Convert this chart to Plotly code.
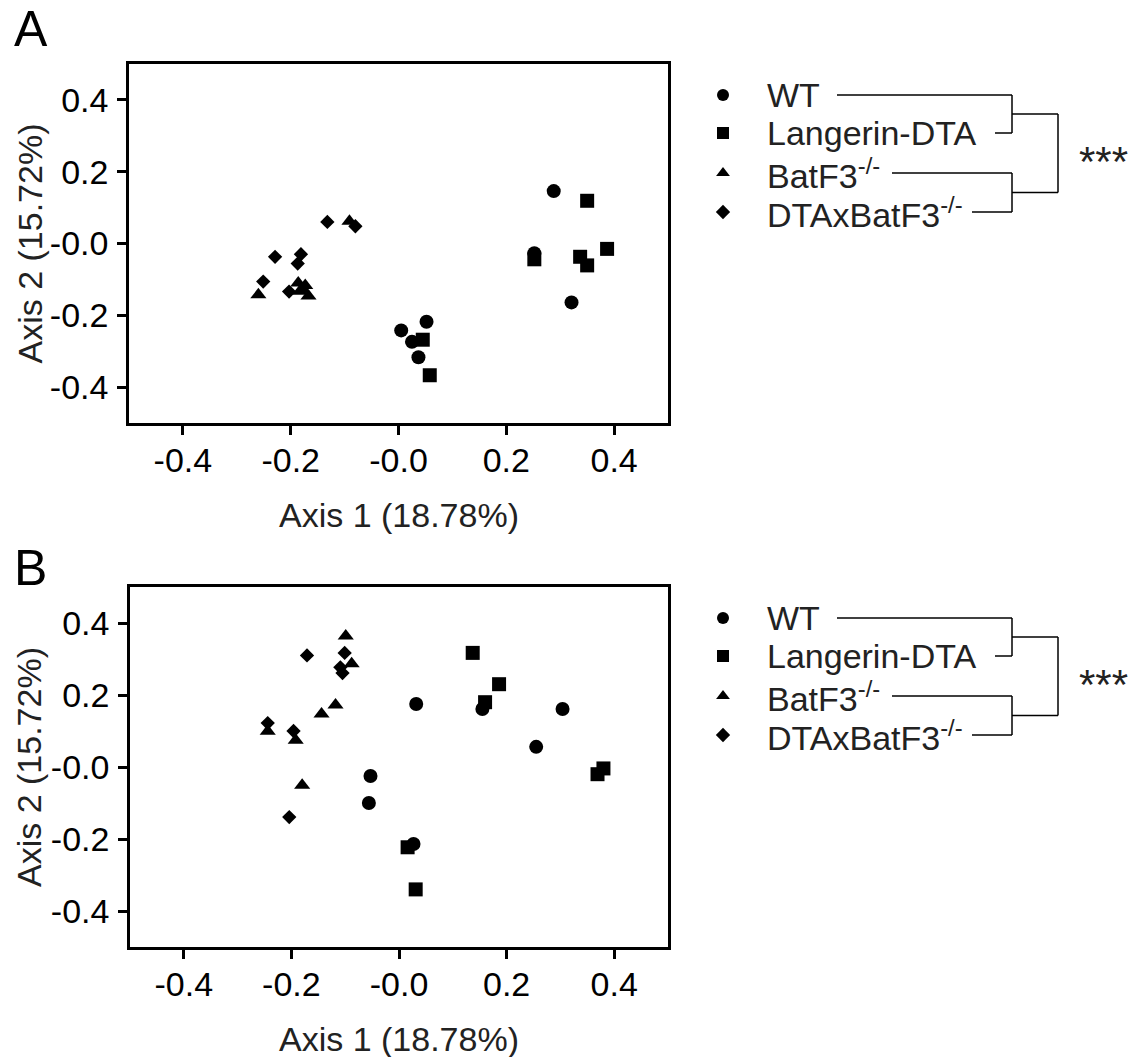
import plotly.graph_objects as go

W, H = 1141, 1057
FONT = "Liberation Sans, Arial, sans-serif"

groups = ["WT", "Langerin-DTA", "BatF3<sup>-/-</sup>", "DTAxBatF3<sup>-/-</sup>"]
symbols = ["circle", "square", "triangle-up", "diamond"]
sizes = [14, 14, 14, 11]
legend_sizes = [12, 12, 12, 11]

# Panel A coordinates
wt_a_x = [0.288, 0.252, 0.321, 0.005, 0.052, 0.025, 0.037]
wt_a_y = [0.146, -0.027, -0.164, -0.242, -0.218, -0.274, -0.317]
lang_a_x = [0.350, 0.387, 0.337, 0.350, 0.252, 0.045, 0.058]
lang_a_y = [0.119, -0.015, -0.037, -0.061, -0.044, -0.268, -0.367]
bat_a_x = [-0.260, -0.186, -0.173, -0.183, -0.167, -0.178, -0.091]
bat_a_y = [-0.143, -0.110, -0.117, -0.133, -0.146, -0.127, 0.062]
dta_a_x = [-0.132, -0.080, -0.229, -0.181, -0.187, -0.251, -0.203]
dta_a_y = [0.060, 0.048, -0.037, -0.030, -0.056, -0.106, -0.134]

# Panel B coordinates
wt_b_x = [0.032, 0.155, 0.304, 0.255, -0.053, -0.056, 0.027]
wt_b_y = [0.175, 0.161, 0.161, 0.056, -0.025, -0.100, -0.214]
lang_b_x = [0.137, 0.186, 0.160, 0.380, 0.369, 0.016, 0.031]
lang_b_y = [0.317, 0.230, 0.180, -0.004, -0.020, -0.223, -0.340]
bat_b_x = [-0.099, -0.088, -0.118, -0.144, -0.244, -0.192, -0.180]
bat_b_y = [0.364, 0.287, 0.172, 0.147, 0.099, 0.074, -0.051]
dta_b_x = [-0.171, -0.101, -0.109, -0.105, -0.244, -0.196, -0.204]
dta_b_y = [0.310, 0.317, 0.277, 0.261, 0.122, 0.100, -0.139]

tick_vals = [-0.4, -0.2, 0.0, 0.2, 0.4]
tick_text = ["-0.4", "-0.2", "-0.0", "0.2", "0.4"]
x_title = "Axis 1 (18.78%)"
y_title = "Axis 2 (15.72%)"
stars = "***"

panels = [
    dict(letter="A", letter_y=29, box=(129, 64, 668, 423),
         xs=[wt_a_x, lang_a_x, bat_a_x, dta_a_x], ys=[wt_a_y, lang_a_y, bat_a_y, dta_a_y]),
    dict(letter="B", letter_y=568, box=(130, 587, 668, 947),
         xs=[wt_b_x, lang_b_x, bat_b_x, dta_b_x], ys=[wt_b_y, lang_b_y, bat_b_y, dta_b_y]),
]

fig = go.Figure()
annotations = []
shapes = []

for i, p in enumerate(panels):
    ax = "" if i == 0 else str(i + 1)
    l, t, r, b = p["box"]
    for g in range(4):
        fig.add_trace(go.Scatter(
            x=p["xs"][g], y=p["ys"][g], mode="markers",
            marker=dict(symbol=symbols[g], size=sizes[g], color="black", line=dict(width=0)),
            xaxis="x" + ax, yaxis="y" + ax, showlegend=False, hoverinfo="skip"))
    axis_common = dict(
        range=[-0.5, 0.5], tickvals=tick_vals, ticktext=tick_text,
        showgrid=False, zeroline=False, showline=True, mirror=True,
        linecolor="black", linewidth=2.5, ticks="outside", ticklen=9,
        tickwidth=2.5, tickcolor="black",
        tickfont=dict(family=FONT, size=34, color="black"))
    fig.update_layout(**{
        "xaxis" + ax: dict(axis_common, domain=[l / W, r / W],
                           anchor="y" + ax, ticklabelstandoff=-4),
        "yaxis" + ax: dict(axis_common, domain=[1 - b / H, 1 - t / H],
                           anchor="x" + ax, ticklabelstandoff=2),
    })
    cy = (t + b) / 2
    cx = (l + r) / 2
    # panel letter and axis titles
    annotations.append(dict(x=12, y=p["letter_y"], text=p["letter"], xref="x3", yref="y3",
                            showarrow=False, xanchor="left", yanchor="middle",
                            font=dict(family=FONT, size=50, color="black")))
    annotations.append(dict(x=cx, y=b + 92, text=x_title, xref="x3", yref="y3",
                            showarrow=False, xanchor="center", yanchor="middle",
                            font=dict(family=FONT, size=34, color="#222")))
    annotations.append(dict(x=29, y=cy, text=y_title, xref="x3", yref="y3",
                            showarrow=False, textangle=-90, xanchor="center", yanchor="middle",
                            font=dict(family=FONT, size=34, color="#222")))

    # legend with significance brackets
    rows = [t + 31, t + 69, t + 109, t + 148]
    line_start = [837, 995, 892, 972]
    for g in range(4):
        fig.add_trace(go.Scatter(
            x=[723], y=[rows[g]], mode="markers",
            marker=dict(symbol=symbols[g], size=legend_sizes[g], color="black", line=dict(width=0)),
            xaxis="x3", yaxis="y3", showlegend=False, hoverinfo="skip"))
        annotations.append(dict(x=765, y=rows[g], text=groups[g], xref="x3", yref="y3",
                                showarrow=False, xanchor="left", yanchor="middle",
                                font=dict(family=FONT, size=34, color="#222")))
        shapes.append(dict(type="line", xref="x3", yref="y3", x0=line_start[g], x1=1012,
                           y0=rows[g], y1=rows[g], line=dict(color="black", width=1.5)))
    m1 = (rows[0] + rows[1]) / 2
    m2 = (rows[2] + rows[3]) / 2
    for (ya, yb, ym) in [(rows[0], rows[1], m1), (rows[2], rows[3], m2)]:
        shapes.append(dict(type="line", xref="x3", yref="y3", x0=1012, x1=1012,
                           y0=ya, y1=yb, line=dict(color="black", width=1.5)))
        shapes.append(dict(type="line", xref="x3", yref="y3", x0=1012, x1=1058,
                           y0=ym, y1=ym, line=dict(color="black", width=1.5)))
    shapes.append(dict(type="line", xref="x3", yref="y3", x0=1058, x1=1058,
                       y0=m1, y1=m2, line=dict(color="black", width=1.5)))
    annotations.append(dict(x=1103, y=(m1 + m2) / 2 + 8, text=stars, xref="x3", yref="y3",
                            showarrow=False, xanchor="center", yanchor="middle",
                            font=dict(family=FONT, size=42, color="#222")))

fig.update_layout(
    width=W, height=H, margin=dict(l=0, r=0, t=0, b=0),
    paper_bgcolor="white", plot_bgcolor="rgba(0,0,0,0)",
    xaxis3=dict(domain=[0, 1], range=[0, W], visible=False, anchor="y3", fixedrange=True),
    yaxis3=dict(domain=[0, 1], range=[H, 0], visible=False, anchor="x3", fixedrange=True),
    annotations=annotations, shapes=shapes, showlegend=False,
)

fig.write_html("out.html")
